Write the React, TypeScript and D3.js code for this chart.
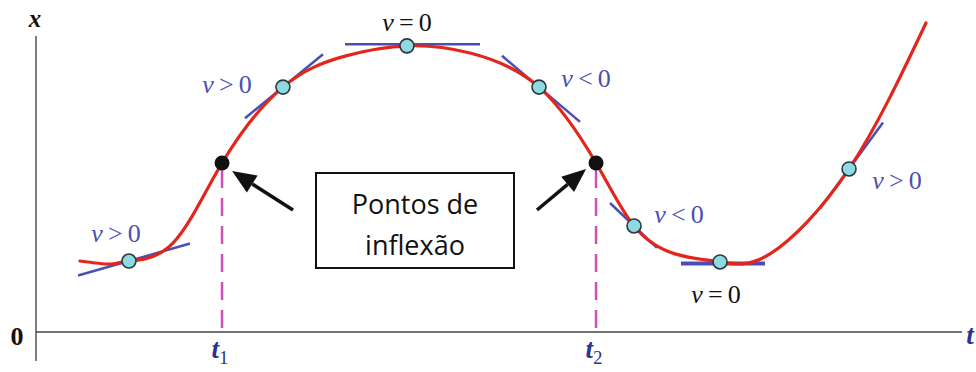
import React from "react";
import * as d3 from "d3";

// Position curve x(t) samples
const curveT = [0.475, 0.799, 1.004, 1.479, 2.009, 2.667, 3.337, 4.017, 4.687, 5.432, 6.048, 6.458, 6.901, 7.397, 7.927, 8.780, 9.611];
const curveX = [2.29, 2.19, 2.29, 2.87, 5.45, 7.90, 8.90, 9.23, 9.00, 7.90, 5.45, 3.42, 2.52, 2.26, 2.52, 5.26, 9.97];

// Tangent points (velocity samples)
const tanT = [1.004, 2.667, 4.006, 5.432, 6.458, 7.387, 8.780];
const tanX = [2.29, 7.90, 9.23, 7.90, 3.42, 2.26, 5.26];
const tanSlope = [0.854, 2.45, 0, -2.53, -2.86, 0, 4.08];
const tanFrom = [0.454, 2.257, 3.337, 5.032, 6.199, 6.965, 8.467];
const tanTo = [1.663, 3.099, 4.795, 5.875, 6.706, 7.873, 9.147];

// Velocity labels
const labText = ["v > 0", "v > 0", "v = 0", "v < 0", "v < 0", "v = 0", "v > 0"];
const labT = [0.864, 2.063, 4.006, 5.94, 6.944, 7.343, 9.298];
const labX = [2.90, 7.71, 9.71, 7.90, 3.52, 0.935, 4.61];
const labBlue = [true, true, false, true, true, false, true];

// Inflection points
const inflT = [2.009, 6.048];
const inflX = [5.45, 5.45];
const inflLabel = ["1", "2"];

const boxLines = ["Pontos de", "inflexão"];

const W = 976, H = 372;
const tScale = d3.scaleLinear().domain([0, 10]).range([36, 962]);
const xScale = d3.scaleLinear().domain([0, 10]).range([332, 22]);

const BLUE = "#4a4fb3";
const RED = "#e3261b";
const MAG = "#cf4fb8";
const AXB = "#2b348f";

function VLabel({ text, x, y, color }: { text: string; x: number; y: number; color: string }) {
  const rest = text.slice(1);
  return (
    <text x={x} y={y} textAnchor="middle" fill={color} fontFamily="'Liberation Serif', serif" fontSize={26}>
      <tspan fontStyle="italic">{text[0]}</tspan>
      <tspan>{rest.replace(/ /g, "\u2009")}</tspan>
    </text>
  );
}

function Arrow({ x1, y1, x2, y2 }: { x1: number; y1: number; x2: number; y2: number }) {
  const ang = Math.atan2(y2 - y1, x2 - x1);
  const L = 24, Wd = 10;
  const bx = x2 - L * Math.cos(ang), by = y2 - L * Math.sin(ang);
  const px = -Math.sin(ang) * Wd, py = Math.cos(ang) * Wd;
  return (
    <g>
      <line x1={x1} y1={y1} x2={bx} y2={by} stroke="#111" strokeWidth={3.5} />
      <path d={`M${x2},${y2}L${bx + px},${by + py}L${bx - px},${by - py}Z`} fill="#111" />
    </g>
  );
}

export default function App() {
  const pts: [number, number][] = curveT.map((t, i) => [t, curveX[i]]);
  const line = d3.line<[number, number]>()
    .x((d) => tScale(d[0]))
    .y((d) => xScale(d[1]))
    .curve(d3.curveNatural);

  const boxL = 316, boxT = 173, boxR = 514, boxB = 268;
  const ip = inflT.map((t, i) => [tScale(t), xScale(inflX[i])]);

  return (
    <svg width={W} height={H} style={{ position: "absolute", left: 0, top: 0 }}>
      <rect width={W} height={H} fill="#fff" />
      {/* axes */}
      <line x1={36} y1={36} x2={36} y2={361} stroke="#555" strokeWidth={1.5} />
      <line x1={36} y1={xScale(0)} x2={962} y2={xScale(0)} stroke="#444" strokeWidth={1.5} />
      <text x={35} y={27} textAnchor="middle" fontFamily="'Liberation Serif', serif" fontStyle="italic" fontWeight="bold" fontSize={25} fill="#111">x</text>
      <text x={17} y={345} textAnchor="middle" fontFamily="'Liberation Serif', serif" fontWeight="bold" fontSize={26} fill="#111">0</text>
      <text x={970} y={344} textAnchor="middle" fontFamily="'Liberation Serif', serif" fontStyle="italic" fontWeight="bold" fontSize={27} fill={AXB}>t</text>

      {/* dashed inflection lines */}
      {ip.map(([px, py], i) => (
        <g key={"d" + i}>
          <line x1={px} y1={py + 7} x2={px} y2={xScale(0)} stroke={MAG} strokeWidth={2.5} strokeDasharray="18,10" />
          <text x={px - 2} y={358} textAnchor="middle" fontFamily="'Liberation Serif', serif" fontStyle="italic" fontWeight="bold" fontSize={27} fill={AXB}>
            t<tspan fontSize={19} dy={6} fontStyle="normal" fontWeight="normal">{inflLabel[i]}</tspan>
          </text>
        </g>
      ))}

      {/* tangent lines */}
      {tanT.map((t, i) => {
        const x1 = tanFrom[i], x2 = tanTo[i];
        const y1 = tanX[i] + tanSlope[i] * (x1 - t);
        const y2 = tanX[i] + tanSlope[i] * (x2 - t);
        const horiz = tanSlope[i] === 0;
        const off = horiz ? (i === 5 ? 1.5 : -1.5) : 0;
        return (
          <line key={"t" + i} x1={tScale(x1)} y1={xScale(y1) + off} x2={tScale(x2)} y2={xScale(y2) + off} stroke={BLUE} strokeWidth={i === 5 ? 4 : 2.5} />
        );
      })}

      {/* curve */}
      <path d={line(pts) || ""} fill="none" stroke={RED} strokeWidth={3.2} strokeLinecap="round" />

      {/* tangent points */}
      {tanT.map((t, i) => (
        <circle key={"c" + i} cx={tScale(t)} cy={xScale(tanX[i])} r={7} fill="#8fd9e3" stroke="#2a3a3a" strokeWidth={1.6} />
      ))}

      {/* inflection points */}
      {ip.map(([px, py], i) => (
        <circle key={"i" + i} cx={px} cy={py} r={7.5} fill="#111" />
      ))}

      {/* labels */}
      {labText.map((s, i) => (
        <VLabel key={"l" + i} text={s} x={tScale(labT[i])} y={xScale(labX[i])} color={labBlue[i] ? BLUE : "#111"} />
      ))}

      {/* box */}
      <rect x={boxL} y={boxT} width={boxR - boxL} height={boxB - boxT} fill="#fff" stroke="#111" strokeWidth={2} />
      {boxLines.map((s, i) => (
        <text key={"b" + i} x={(boxL + boxR) / 2} y={214 + i * 41} textAnchor="middle" fontFamily="'Open Sans', sans-serif" fontSize={27} fill="#111">{s}</text>
      ))}

      {/* arrows */}
      <Arrow x1={293} y1={210} x2={ip[0][0] + 10} y2={ip[0][1] + 8} />
      <Arrow x1={537} y1={210} x2={ip[1][0] - 10} y2={ip[1][1] + 6} />
    </svg>
  );
}
